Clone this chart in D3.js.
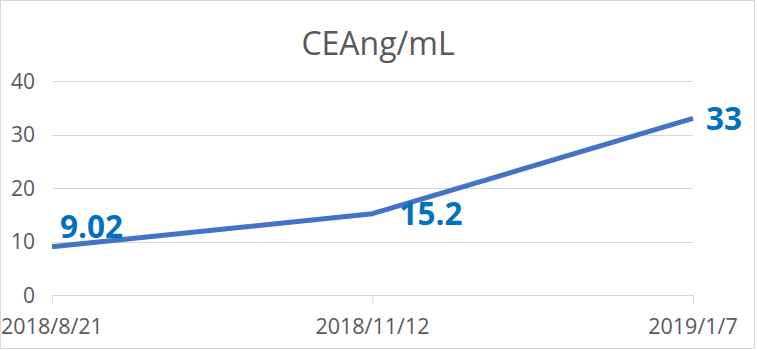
<!DOCTYPE html>
<html>
<head>
<meta charset="utf-8">
<script src="https://cdn.jsdelivr.net/npm/d3@7"></script>
<style>
  body { margin: 0; background: #fff; }
  text { font-family: "Open Sans", sans-serif; }
</style>
</head>
<body>
<div id="chart"></div>
<script>
const title = "CEAng/mL";
const dates = ["2018/8/21", "2018/11/12", "2019/1/7"];
const values = [9.02, 15.2, 33];
const labels = ["9.02", "15.2", "33"];
const yTicks = [0, 10, 20, 30, 40];

const width = 757, height = 351;

const svg = d3.select("#chart")
    .append("svg")
    .attr("width", width)
    .attr("height", height);

// chart border
svg.append("rect")
    .attr("x", 0.5).attr("y", 0.5)
    .attr("width", width - 3).attr("height", height - 3)
    .attr("fill", "#fff")
    .attr("stroke", "#d9d9d9");

const x = d3.scalePoint()
    .domain(dates)
    .range([52, 693]);

const y = d3.scaleLinear()
    .domain([0, 40])
    .range([295, 81]);

// gridlines
svg.append("g")
    .selectAll("line")
    .data(yTicks)
    .enter().append("line")
    .attr("x1", 52).attr("x2", 693)
    .attr("y1", d => Math.round(y(d)) + 0.5).attr("y2", d => Math.round(y(d)) + 0.5)
    .attr("stroke", "#d9d9d9")
    .attr("stroke-width", 1);

// y labels
svg.append("g")
    .selectAll("text")
    .data(yTicks)
    .enter().append("text")
    .attr("x", 35)
    .attr("y", d => y(d))
    .attr("dy", "0.36em")
    .attr("text-anchor", "end")
    .attr("font-size", 21)
    .attr("fill", "#595959")
    .text(d => d);

// x ticks
svg.append("g")
    .selectAll("line")
    .data(dates)
    .enter().append("line")
    .attr("x1", d => x(d) + 0.5).attr("x2", d => x(d) + 0.5)
    .attr("y1", y(0)).attr("y2", y(0) + 8)
    .attr("stroke", "#d9d9d9");

// x labels, centred under ticks
svg.append("g")
    .selectAll("text")
    .data(dates)
    .enter().append("text")
    .attr("x", d => x(d))
    .attr("y", 334)
    .attr("text-anchor", "middle")
    .attr("font-size", 21.5)
    .attr("fill", "#595959")
    .text(d => d);

// title
svg.append("text")
    .attr("x", 378)
    .attr("y", 55)
    .attr("text-anchor", "middle")
    .attr("font-size", 32)
    .attr("fill", "#595959")
    .text(title);

// line
const line = d3.line()
    .x((d, i) => x(dates[i]))
    .y(d => y(d));

svg.append("path")
    .datum(values)
    .attr("d", line)
    .attr("fill", "none")
    .attr("stroke", "#4472C4")
    .attr("stroke-width", 5)
    .attr("stroke-linejoin", "round");

// data labels
const offsets = [[8, -20], [27, 0], [13, 0]];
svg.append("g")
    .selectAll("text")
    .data(values)
    .enter().append("text")
    .attr("x", (d, i) => x(dates[i]) + offsets[i][0])
    .attr("y", (d, i) => y(d) + offsets[i][1])
    .attr("dy", "0.36em")
    .attr("font-size", 31.5)
    .attr("font-weight", "bold")
    .attr("fill", "#0070C0")
    .text((d, i) => labels[i]);
</script>
</body>
</html>
